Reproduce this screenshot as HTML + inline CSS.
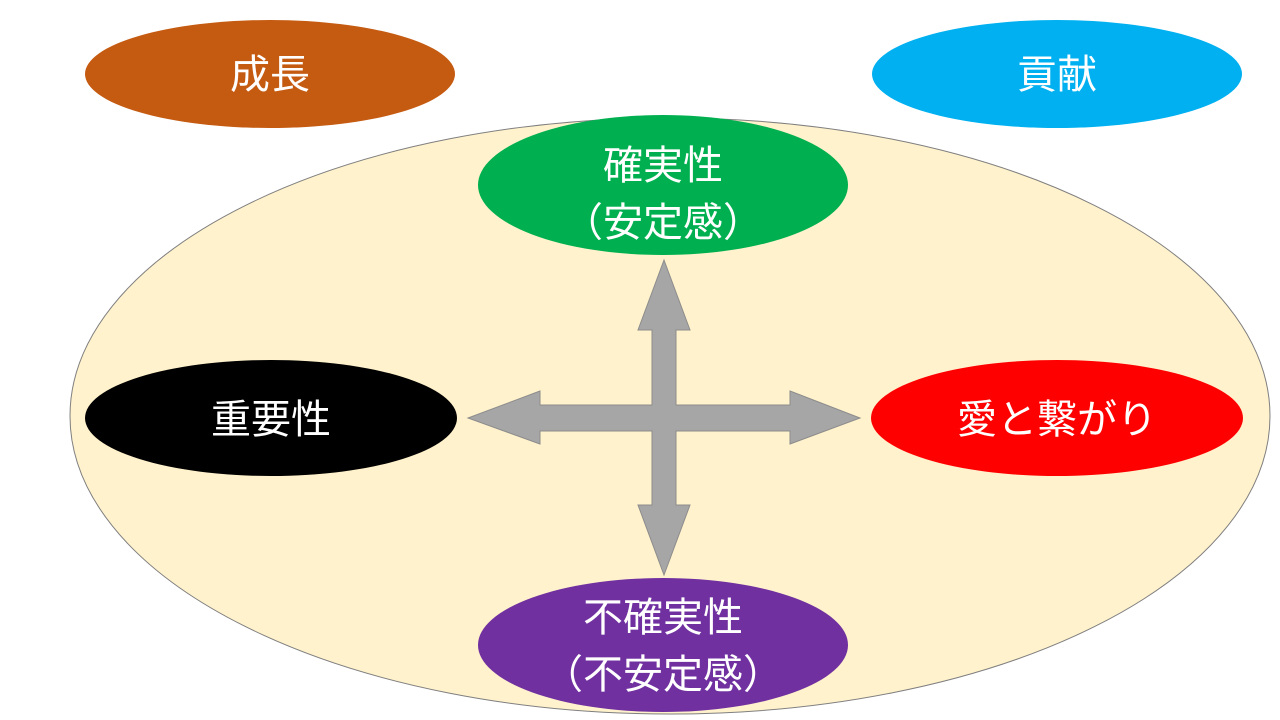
<!DOCTYPE html>
<html><head><meta charset="utf-8"><style>
html,body{margin:0;padding:0;background:#fff;width:1280px;height:720px;overflow:hidden}
svg text{font-family:"Liberation Sans","Noto Sans CJK JP",sans-serif;fill:#fff;font-size:40px;text-anchor:middle}
</style></head><body>
<svg width="1280" height="720" viewBox="0 0 1280 720">
<ellipse cx="670" cy="416" rx="600" ry="298" fill="#FFF2CC" stroke="#7f7f7f" stroke-width="1"/>
<ellipse cx="270" cy="74" rx="185" ry="54" fill="#C55A11"/>
<text x="270" y="88">成長</text>
<ellipse cx="1057" cy="74" rx="185" ry="54" fill="#00B0F0"/>
<text x="1057" y="88">貢献</text>
<ellipse cx="663" cy="185" rx="185" ry="70" fill="#00B050"/>
<text x="663" y="179">確実性</text>
<text x="663" y="236">（安定感）</text>
<ellipse cx="271" cy="418" rx="186" ry="58" fill="#000"/>
<text x="271" y="433">重要性</text>
<ellipse cx="1057" cy="418" rx="186" ry="58" fill="#FF0000"/>
<text x="1057" y="433">愛と繋がり</text>
<ellipse cx="663" cy="645" rx="185" ry="67" fill="#7030A0"/>
<text x="663" y="631">不確実性</text>
<text x="663" y="688">（不安定感）</text>
<path d="M664 260 L690 330 L676 330 L676 405 L790 405 L790 391 L860 418 L790 444 L790 431 L676 431 L676 505 L690 505 L664 575 L638 505 L652 505 L652 431 L540 431 L540 444 L468 418 L540 391 L540 405 L652 405 L652 330 L638 330 Z" fill="#A6A6A6" stroke="#8c8c8c" stroke-width="1"/>
</svg>
</body></html>
